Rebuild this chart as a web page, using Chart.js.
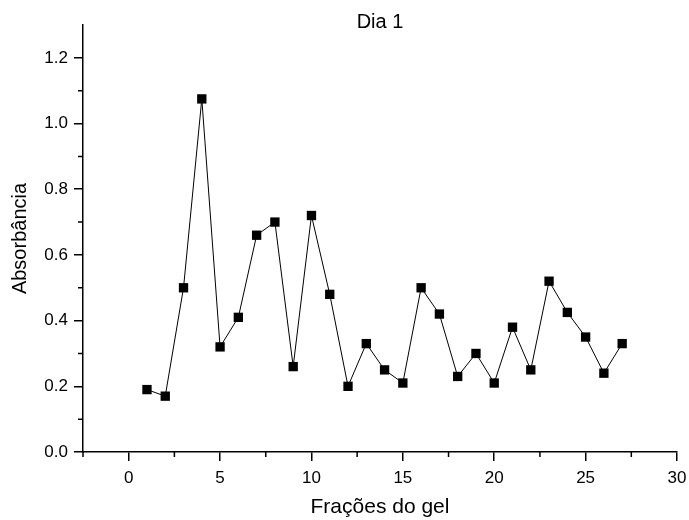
<!DOCTYPE html>
<html>
<head>
<meta charset="utf-8">
<script src="https://cdn.jsdelivr.net/npm/chart.js@4/dist/chart.umd.min.js"></script>
<style>
  html, body { margin: 0; padding: 0; background: #fff; }
  #wrap { width: 689px; height: 520px; }
</style>
</head>
<body>
<div id="wrap"><canvas id="chart" width="689" height="520"></canvas></div>
<script>
const fractions = [1, 2, 3, 4, 5, 6, 7, 8, 9, 10, 11, 12, 13, 14, 15, 16, 17, 18, 19, 20, 21, 22, 23, 24, 25, 26, 27];
const absorbance = [0.19, 0.17, 0.50, 1.075, 0.32, 0.41, 0.66, 0.70, 0.26, 0.72, 0.48, 0.20, 0.33, 0.25, 0.21,
  0.50, 0.42, 0.23, 0.30, 0.21, 0.38, 0.25, 0.52, 0.425, 0.35, 0.24, 0.33];
const xMinorTicks = [-2.5, 2.5, 7.5, 12.5, 17.5, 22.5, 27.5];
const yMinorTicks = [0.1, 0.3, 0.5, 0.7, 0.9, 1.1];

const FONT = '"Liberation Sans", Arial, sans-serif';

// short ticks between the labelled ones, like the original plot
const minorTicks = {
  id: 'minorTicks',
  afterDraw(chart) {
    const { ctx, scales: { x, y } } = chart;
    ctx.save();
    ctx.strokeStyle = '#000';
    ctx.lineWidth = 1.5;
    ctx.beginPath();
    xMinorTicks.forEach(v => {
      const px = x.getPixelForValue(v);
      ctx.moveTo(px, y.bottom);
      ctx.lineTo(px, y.bottom + 5);
    });
    yMinorTicks.forEach(v => {
      const py = y.getPixelForValue(v);
      ctx.moveTo(x.left, py);
      ctx.lineTo(x.left - 5, py);
    });
    ctx.stroke();
    ctx.restore();
  },
};

const points = fractions.map((f, i) => ({ x: f, y: absorbance[i] }));

new Chart(document.getElementById('chart'), {
  type: 'line',
  data: {
    datasets: [
      {
        label: 'Dia 1',
        data: points,
        borderColor: '#000',
        borderWidth: 1,
        backgroundColor: '#000',
        pointStyle: 'rect',
        pointRadius: 6.6,
        pointBorderWidth: 0,
        tension: 0,
        fill: false,
      },
    ],
  },
  options: {
    responsive: false,
    animation: false,
    layout: { padding: { top: 0, right: 12, bottom: 0, left: 0 } },
    plugins: {
      legend: { display: false },
      tooltip: { enabled: false },
      title: {
        display: true,
        text: 'Dia 1',
        fullSize: false,
        color: '#000',
        font: { family: FONT, size: 20, weight: 'normal' },
        padding: { top: 10, bottom: -9 },
      },
    },
    scales: {
      x: {
        type: 'linear',
        min: -2.5,
        max: 30,
        border: { display: true, color: '#000', width: 1.5 },
        grid: { drawOnChartArea: false, drawTicks: true, tickLength: 9, color: '#000', lineWidth: 1.5 },
        ticks: {
          stepSize: 5,
          includeBounds: false,
          color: '#000',
          padding: 7,
          maxRotation: 0,
          font: { family: FONT, size: 17 },
        },
        title: {
          display: true,
          text: 'Frações do gel',
          color: '#000',
          font: { family: FONT, size: 21 },
          padding: { top: 6, bottom: 0 },
        },
        afterFit(scale) {
          scale.height = 68;
          scale.paddingLeft = 0;
          scale.paddingRight = 0;
        },
      },
      y: {
        min: 0,
        max: 1.3,
        border: { display: true, color: '#000', width: 1.5 },
        grid: { drawOnChartArea: false, drawTicks: true, tickLength: 9, color: '#000', lineWidth: 1.5 },
        ticks: {
          stepSize: 0.2,
          includeBounds: false,
          color: '#000',
          padding: 6,
          font: { family: FONT, size: 17 },
          callback: value => value.toFixed(1),
        },
        title: {
          display: true,
          text: 'Absorbância',
          color: '#000',
          font: { family: FONT, size: 20 },
          padding: { top: 8, bottom: 0 },
        },
        afterFit(scale) { scale.width = 83; },
      },
    },
  },
  plugins: [minorTicks],
});
</script>
</body>
</html>
